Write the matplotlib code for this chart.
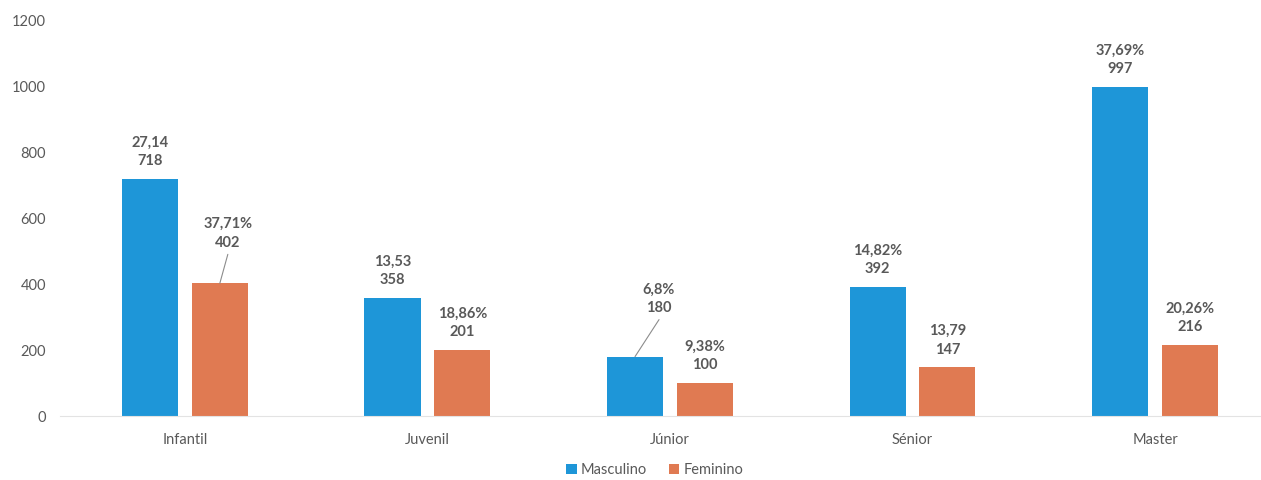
import numpy as np
import matplotlib.pyplot as plt

categorias = ["Infantil", "Juvenil", "Júnior", "Sénior", "Master"]
masculino = [718, 358, 180, 392, 997]
feminino = [402, 201, 100, 147, 216]
pct_masc = ["27,14", "13,53", "6,8%", "14,82%", "37,69%"]
pct_fem = ["37,71%", "18,86%", "9,38%", "13,79", "20,26%"]

azul = "#1e96d8"
laranja = "#e07a52"
cinza = "#595959"

plt.rcParams["font.family"] = ["Lato", "DejaVu Sans"]

fig = plt.figure(figsize=(12.61, 4.8), dpi=100)
ax = fig.add_axes([60 / 1261, 64 / 480, 1 - 60 / 1261, (416 - 20) / 480])

x = np.arange(len(categorias))
w = 0.231
off = 0.144
b1 = ax.bar(x - off, masculino, w, color=azul, label="Masculino")
b2 = ax.bar(x + off, feminino, w, color=laranja, label="Feminino")

ax.set_ylim(0, 1200)
ax.set_xlim(-0.515, 4.437)
ax.set_yticks(range(0, 1201, 200))
ax.set_xticks(x)
ax.set_xticklabels(categorias)
ax.tick_params(axis="both", length=0, labelsize=10.5, colors=cinza)
ax.tick_params(axis="y", pad=10)
ax.tick_params(axis="x", pad=12)
for s in ["top", "right", "left"]:
    ax.spines[s].set_visible(False)
ax.spines["bottom"].set_color("#e3e3e3")
ax.spines["bottom"].set_linewidth(0.8)

px = 0.72  # pixel -> point


def rotulo(bar, txt, dx=0, dy=27, linha=False):
    xc = bar.get_x() + bar.get_width() / 2
    h = bar.get_height()
    ax.annotate(txt, (xc, h), xytext=(dx * px, dy * px), textcoords="offset points",
                ha="center", va="center", fontsize=10.5, fontweight="bold",
                color=cinza, linespacing=1.4)
    if linha:
        ax.annotate("", (xc, h), xytext=(dx * px, (dy - 21) * px),
                    textcoords="offset points",
                    arrowprops=dict(arrowstyle="-", color="#8c8c8c", lw=0.8,
                                    shrinkA=0, shrinkB=0))


for i in range(len(categorias)):
    if i == 2:
        rotulo(b1[i], pct_masc[i] + "\n" + str(masculino[i]), dx=24, dy=58, linha=True)
    else:
        rotulo(b1[i], pct_masc[i] + "\n" + str(masculino[i]))
    if i == 0:
        rotulo(b2[i], pct_fem[i] + "\n" + str(feminino[i]), dx=8, dy=50, linha=True)
    else:
        rotulo(b2[i], pct_fem[i] + "\n" + str(feminino[i]))

fig.legend(loc="center", bbox_to_anchor=(655 / 1261, 1 - 470 / 480), ncol=2, frameon=False,
           fontsize=10.5, handlelength=0.7, handleheight=0.7, handletextpad=0.3,
           columnspacing=1.5, labelcolor=cinza)

fig.savefig("out.png", dpi=100)
